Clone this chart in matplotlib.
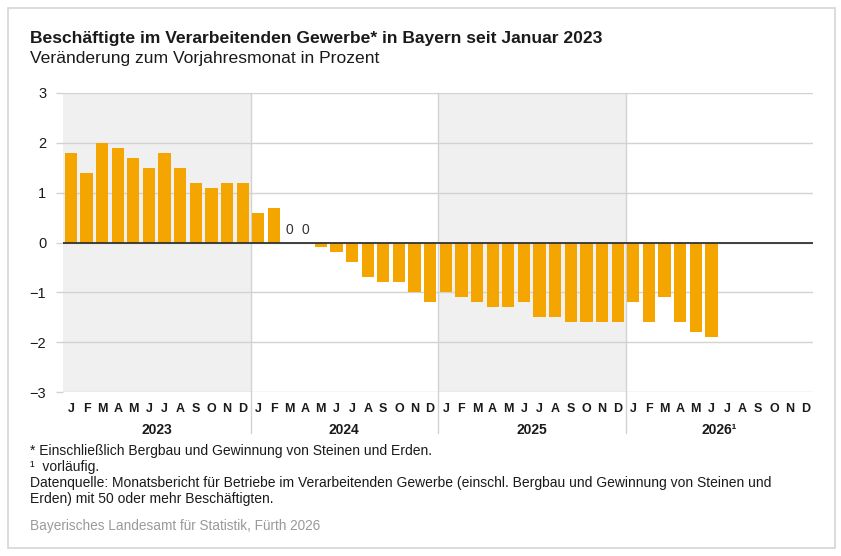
import matplotlib.pyplot as plt
from matplotlib.patches import Rectangle

years = ["2023", "2024", "2025", "2026\u00b9"]
month_letters = ["J", "F", "M", "A", "M", "J", "J", "A", "S", "O", "N", "D"]

vals_2023 = [1.8, 1.4, 2.0, 1.9, 1.7, 1.5, 1.8, 1.5, 1.2, 1.1, 1.2, 1.2]
vals_2024 = [0.6, 0.7, 0.0, 0.0, -0.1, -0.2, -0.4, -0.7, -0.8, -0.8, -1.0, -1.2]
vals_2025 = [-1.0, -1.1, -1.2, -1.3, -1.3, -1.2, -1.5, -1.5, -1.6, -1.6, -1.6, -1.6]
vals_2026 = [-1.2, -1.6, -1.1, -1.6, -1.8, -1.9]

values = vals_2023 + vals_2024 + vals_2025 + vals_2026

BAR = "#f5a500"
SHADE = "#f0f0f0"
GRID = "#d2d2d2"
INK = "#1a1a1a"

plt.rcParams["font.family"] = ["Liberation Sans", "DejaVu Sans"]

W, H = 841, 556
fig = plt.figure(figsize=(W / 100, H / 100), dpi=100)


def fx(px):
    return px / W


def fy(py):
    return 1 - py / H


# outer frame
fig.add_artist(Rectangle((fx(8), fy(548)), fx(827), 540 / H, transform=fig.transFigure,
                         facecolor="none", edgecolor="#d6d6d6", linewidth=1.2))

left, right, top, bottom = 63, 813, 93, 392
ax = fig.add_axes([fx(left), fy(bottom), fx(right - left), (bottom - top) / H])
ax.set_xlim(-0.5, 47.5)
ax.set_ylim(-3, 3)

# shaded years
for i in (0, 2):
    ax.axvspan(i * 12 - 0.5, i * 12 + 11.5, color=SHADE, zorder=0, lw=0)

ax.set_yticks([-3, -2, -1, 0, 1, 2, 3])
ax.set_yticklabels(["\u22123", "\u22122", "\u22121", "0", "1", "2", "3"])
ax.grid(axis="y", color=GRID, linewidth=1.0, zorder=1)
ax.tick_params(axis="y", length=5, color=GRID, width=1.0, pad=7, labelsize=10.5, labelcolor=INK)
ax.tick_params(axis="x", length=0, labelbottom=False)
for s in ax.spines.values():
    s.set_visible(False)

xs = list(range(len(values)))
ax.bar(xs, values, width=0.78, color=BAR, zorder=2)
ax.axhline(0, color="#333333", linewidth=1.3, zorder=3)

for x, v in zip(xs, values):
    if v == 0:
        ax.text(x, 0.12, "0", ha="center", va="bottom", fontsize=10, color="#333333")

# year separators, reaching down to the year labels
for i in (1, 2, 3):
    ax.plot([i * 12 - 0.5] * 2, [3, -3.82], color=GRID, linewidth=1.0, clip_on=False, zorder=1)

for yi, year in enumerate(years):
    for m, letter in enumerate(month_letters):
        ax.text(yi * 12 + m, -3.35, letter, ha="center", va="center", fontsize=9,
                fontweight="bold", color=INK)
    ax.text(yi * 12 + 5.5, -3.77, year, ha="center", va="center", fontsize=10,
            fontweight="bold", color=INK)

fig.text(fx(30), fy(38), "Beschäftigte im Verarbeitenden Gewerbe* in Bayern seit Januar 2023",
         fontsize=12.6, fontweight="bold", color=INK, va="center")
fig.text(fx(30), fy(58), "Veränderung zum Vorjahresmonat in Prozent",
         fontsize=12.6, color=INK, va="center")

notes = [
    (451, "* Einschließlich Bergbau und Gewinnung von Steinen und Erden."),
    (467, "\u00b9  vorläufig."),
    (483, "Datenquelle: Monatsbericht für Betriebe im Verarbeitenden Gewerbe (einschl. Bergbau und Gewinnung von Steinen und"),
    (499, "Erden) mit 50 oder mehr Beschäftigten."),
]
for py, s in notes:
    fig.text(fx(30), fy(py), s, fontsize=10, color=INK, va="center")

fig.text(fx(30), fy(526), "Bayerisches Landesamt für Statistik, Fürth 2026",
         fontsize=9.8, color="#9a9a9a", va="center")

fig.savefig("out.png", dpi=100)
